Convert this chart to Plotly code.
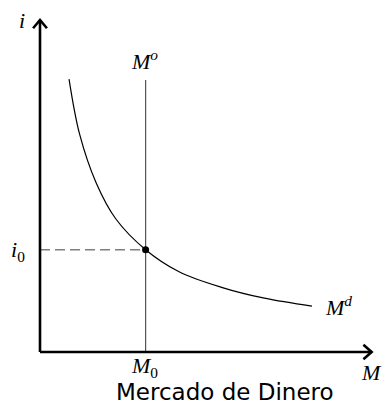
import plotly.graph_objects as go

# Money demand curve (M^d)
Md_M = [0.88, 1.2, 1.7, 2.3, 3.2, 4.2, 5.5, 6.8, 8.24]
Md_i = [8.27, 6.6, 5.13, 4.03, 3.1, 2.44, 1.96, 1.63, 1.39]

# Money supply (vertical) and equilibrium
M0 = 3.2
i0 = 3.1
Mo_top = 8.24

X_MAX = 10.0
Y_MAX = 10.06

fig = go.Figure()

# dashed line from i axis to equilibrium
fig.add_trace(go.Scatter(x=[0, M0], y=[i0, i0], mode="lines",
                         line=dict(color="#7f7f7f", width=1.6, dash="10px,5px"),
                         hoverinfo="skip", showlegend=False))
# money supply
fig.add_trace(go.Scatter(x=[M0, M0], y=[0, Mo_top], mode="lines",
                         line=dict(color="#555555", width=1.2),
                         hoverinfo="skip", showlegend=False))
# money demand
fig.add_trace(go.Scatter(x=Md_M, y=Md_i, mode="lines",
                         line=dict(color="black", width=1.2, shape="spline", smoothing=1.0),
                         hoverinfo="skip", showlegend=False))
# equilibrium point
fig.add_trace(go.Scatter(x=[M0], y=[i0], mode="markers",
                         marker=dict(color="black", size=7),
                         hoverinfo="skip", showlegend=False))

ax_line = dict(color="black", width=2.6)
shapes = [
    dict(type="line", xref="x", yref="y", x0=0, y0=0, x1=0, y1=Y_MAX, line=ax_line),
    dict(type="line", xref="x", yref="y", x0=0, y0=0, x1=X_MAX + 0.05, y1=0, line=ax_line),
    dict(type="path", xref="x", yref="y",
         path=f"M {-0.21} {Y_MAX-0.25} L 0 {Y_MAX} L {0.21} {Y_MAX-0.25}", line=ax_line),
    dict(type="path", xref="x", yref="y",
         path=f"M {X_MAX-0.2} {0.22} L {X_MAX+0.05} 0 L {X_MAX-0.2} {-0.22}", line=ax_line),
]

serif = dict(family="Liberation Serif", size=22, color="black")
annotations = [
    dict(x=-0.55, y=10.06, text="<i>i</i>", font=serif),
    dict(x=3.18, y=8.86, text="<i>M</i><sup><i>o</i></sup>", font=serif),
    dict(x=-0.66, y=3.06, text="<i>i</i><sub>0</sub>", font=serif),
    dict(x=9.05, y=1.4, text="<i>M</i><sup><i>d</i></sup>", font=serif),
    dict(x=3.18, y=-0.45, text="<i>M</i><sub>0</sub>", font=serif),
    dict(x=10.06, y=-0.62, text="<i>M</i>", font=serif),
    dict(x=5.6, y=-1.2, text="Mercado de Dinero",
         font=dict(family="DejaVu Sans", size=23, color="black")),
]
for a in annotations:
    a.update(xref="x", yref="y", showarrow=False, xanchor="center", yanchor="middle")

# screen pixels: px = 40 + 33*M, py = 352 - 33*i
fig.update_layout(
    width=386, height=408,
    margin=dict(l=0, r=0, t=0, b=0),
    paper_bgcolor="white", plot_bgcolor="white",
    xaxis=dict(range=[-40/33, 346/33], visible=False, fixedrange=True),
    yaxis=dict(range=[-56/33, 352/33], visible=False, fixedrange=True),
    shapes=shapes, annotations=annotations,
)

fig.write_html("out.html", config={"displayModeBar": False},
               post_script="document.body.style.margin='0';document.body.style.overflow='hidden';")
